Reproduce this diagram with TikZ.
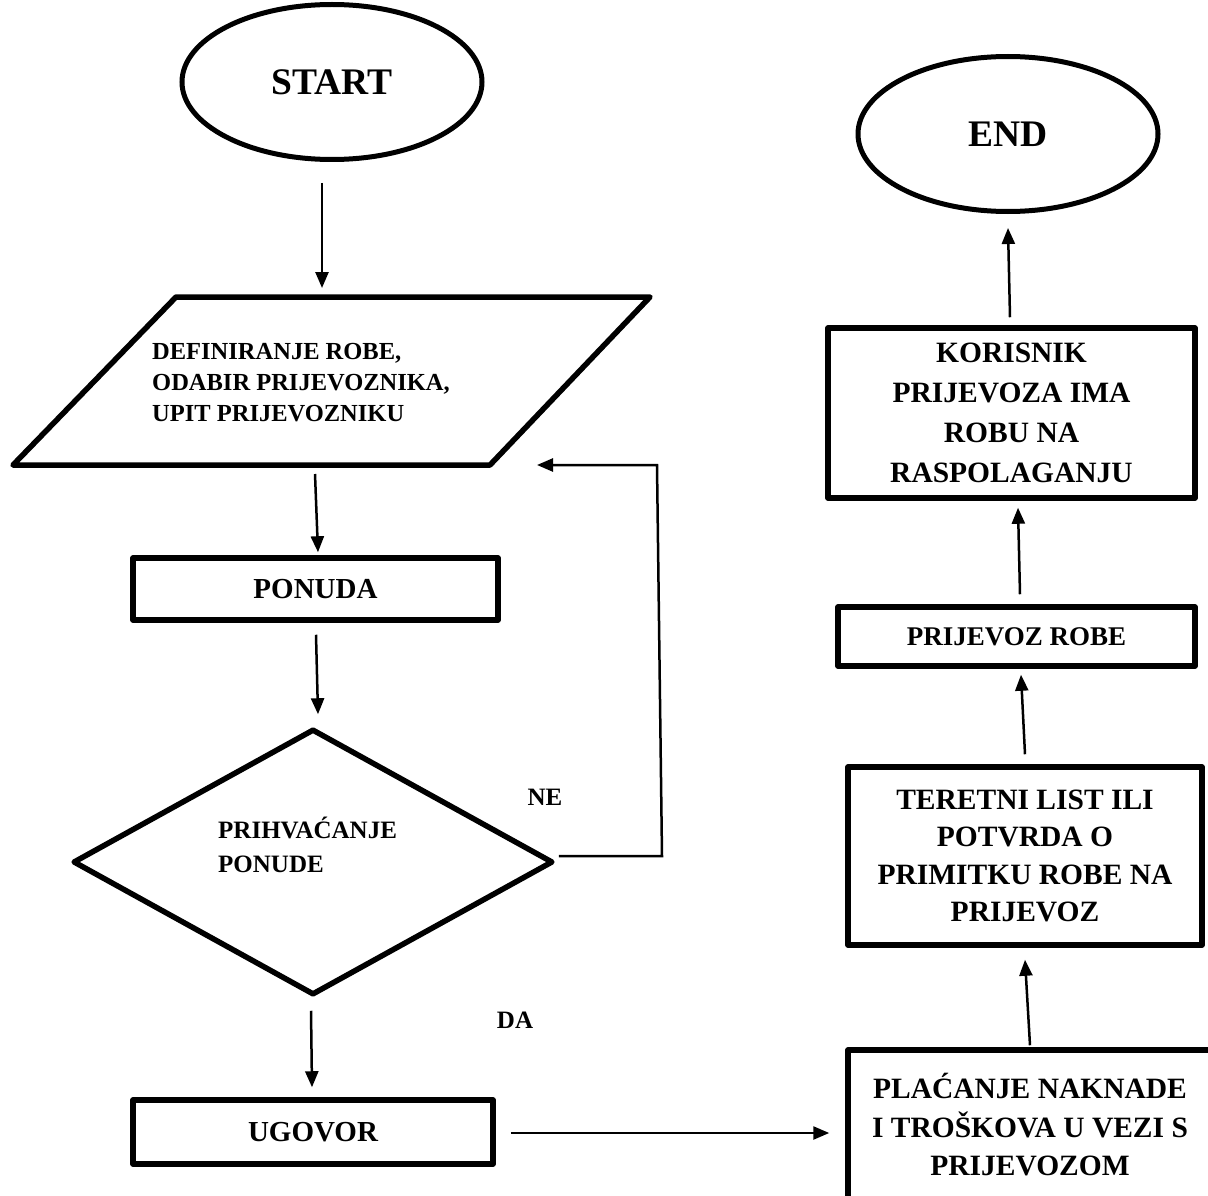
\documentclass[tikz,border=0pt]{standalone}
\usepackage{fontspec}
\setmainfont{Liberation Serif}
\usetikzlibrary{shapes.geometric,arrows.meta,calc}
\begin{document}
\begin{tikzpicture}[x=1pt,y=-1pt,
  box/.style={draw,line width=5.5pt,line join=round,rectangle,inner sep=0pt,align=center,font=\bfseries\fontsize{29}{38}\selectfont},
  term/.style={draw,line width=5pt,ellipse,inner sep=0pt,minimum width=300pt,minimum height=155pt,font=\bfseries\fontsize{37.5}{40}\selectfont},
  arr/.style={line width=2.5pt,-{Triangle[length=16pt,width=13pt]}},
  lbl/.style={font=\bfseries\fontsize{25}{34}\selectfont,inner sep=0pt}]
\clip (0,0) rectangle (1208,1196);
% terminals
\node[term] (start) at (332,82) {START};
\node[term] (end) at (1008,134) {END};
% parallelogram
\coordinate (p1) at (176,297);
\coordinate (p2) at (650,297);
\coordinate (p3) at (490,465);
\coordinate (p4) at (13,465);
\draw[line width=5.5pt,line join=round] (p1)--(p2)--(p3)--(p4)--cycle;
\coordinate (paratop) at (322,297);
\coordinate (parabot) at (315,465);
\node[inner sep=0pt,align=left,anchor=west,font=\bfseries\fontsize{24.5}{31}\selectfont] (deftxt) at (152,383) {DEFINIRANJE ROBE,\\ODABIR PRIJEVOZNIKA,\\UPIT PRIJEVOZNIKU};
% left column
\node[box,minimum width=365pt,minimum height=62pt,font=\bfseries\fontsize{29}{34}\selectfont] (ponuda) at (315.5,589) {PONUDA};
\node[draw,diamond,line width=5.5pt,line join=round,minimum width=480pt,minimum height=266pt,inner sep=0pt] (dec) at (313,862) {};
\node[lbl,align=left,anchor=north west] (dectxt) at (218,817) {PRIHVAĆANJE\\PONUDE};
\node[box,minimum width=360pt,minimum height=64pt,font=\bfseries\fontsize{29}{34}\selectfont] (ugovor) at (313,1132) {UGOVOR};
\node[lbl] (ne) at (545,797) {NE};
\node[lbl] (da) at (515,1020) {DA};
% right column
\node[box,minimum width=364pt,minimum height=150pt,font=\bfseries\fontsize{29.5}{38.5}\selectfont] (plac) at (1030,1125) {PLAĆANJE NAKNADE\\I TROŠKOVA U VEZI S\\PRIJEVOZOM};
\node[box,minimum width=354pt,minimum height=178pt,font=\bfseries\fontsize{29.5}{37.5}\selectfont] (teret) at (1025,856) {TERETNI LIST ILI\\POTVRDA O\\PRIMITKU ROBE NA\\PRIJEVOZ};
\node[box,minimum width=357pt,minimum height=59pt,font=\bfseries\fontsize{27}{32}\selectfont] (prijevoz) at (1016.5,636.5) {PRIJEVOZ ROBE};
\node[box,minimum width=367pt,minimum height=170pt,font=\bfseries\fontsize{29.5}{40}\selectfont] (koris) at (1011.5,413) {KORISNIK\\PRIJEVOZA IMA\\ROBU NA\\RASPOLAGANJU};
% connectors
\draw[arr] ($(start.south)+(-10,21)$) -- ($(paratop)+(0,-9)$);
\draw[arr] ($(parabot)+(0,9)$) -- ($(ponuda.north)+(2.5,-3)$);
\draw[arr] ($(ponuda.south)+(0.5,12)$) -- ($(dec.north)+(5,-12)$);
\coordinate (ne1) at (662,856);
\coordinate (ne2) at (657,465);
\coordinate (ne3) at (537,465);
\draw[arr] ($(dec.east)+(3,-6)$) -- (ne1) -- (ne2) -- (ne3);
\draw[arr] ($(dec.south)+(-2,13)$) -- ($(ugovor.north)+(-1,-10)$);
\draw[arr] ($(ugovor.east)+(15,1)$) -- ($(plac.west)+(-16,8)$);
\draw[arr] ($(plac.north)+(0,-2)$) -- ($(teret.south)+(0,12)$);
\draw[arr] ($(teret.north)+(0,-10)$) -- ($(prijevoz.south)+(4.5,6)$);
\draw[arr] ($(prijevoz.north)+(3.5,-10)$) -- ($(koris.south)+(6.5,7)$);
\draw[arr] ($(koris.north)+(-1.5,-8)$) -- ($(end.south)+(0,14)$);
\end{tikzpicture}
\end{document}
